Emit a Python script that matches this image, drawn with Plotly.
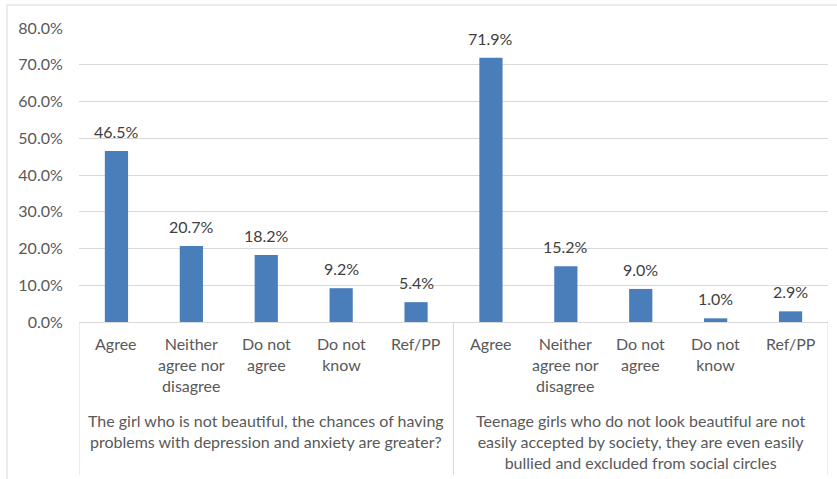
import plotly.graph_objects as go

# Survey responses, two statements, five answer options each
questions = [
    "The girl who is not beautiful, the chances of having<br>problems with depression and anxiety are greater?",
    "Teenage girls who do not look beautiful are not<br>easily accepted by society, they are even easily<br>bullied and excluded from social circles",
]
answers = ["Agree", "Neither<br>agree nor<br>disagree", "Do not<br>agree", "Do not<br>know", "Ref/PP"]
shares_q1 = [0.465, 0.207, 0.182, 0.092, 0.054]
shares_q2 = [0.719, 0.152, 0.090, 0.010, 0.029]

y_ticks = [0.0, 0.1, 0.2, 0.3, 0.4, 0.5, 0.6, 0.7, 0.8]

values = shares_q1 + shares_q2
labels = answers + answers
xpos = list(range(len(values)))

BAR = "#4a7ebb"
GRID = "#d9d9d9"
FONT = "Lato"

fig = go.Figure(
    go.Bar(
        x=xpos,
        y=values,
        marker=dict(color=BAR, line=dict(width=0)),
        width=0.31,
        hoverinfo="skip",
    )
)

annotations = []
# value labels above each bar
for x, v in zip(xpos, values):
    annotations.append(dict(
        x=x, y=v, xref="x", yref="y", text=f"{v*100:.1f}%",
        showarrow=False, yanchor="bottom", yshift=8,
        font=dict(family=FONT, size=16, color="#404040"),
    ))
# answer option labels under the axis
for x, lab in zip(xpos, labels):
    annotations.append(dict(
        x=x, y=0, xref="x", yref="paper", text=lab,
        showarrow=False, yanchor="top", yshift=-10, align="center",
        font=dict(family=FONT, size=16, color="#595959"),
    ))
# statement labels, one per group
for gi, q in enumerate(questions):
    annotations.append(dict(
        x=gi * 5 + 2, y=0, xref="x", yref="paper", text=q,
        showarrow=False, yanchor="top", yshift=-87, align="center",
        font=dict(family=FONT, size=16, color="#595959"),
    ))

plot_h = 294.0
plot_w = 749.0
shapes = []
# group divider lines below the axis
for xd in [-0.5, 4.5, 9.5]:
    shapes.append(dict(
        type="line", xref="x", yref="paper", x0=xd, x1=xd,
        y0=0, y1=-(475 - 322) / plot_h, line=dict(color=GRID, width=1),
    ))
# chart frame
shapes.append(dict(
    type="rect", xref="paper", yref="paper",
    x0=-(79 - 7) / plot_w, x1=1.1, y0=-(490 - 322) / plot_h, y1=(322 - 5) / plot_h,
    line=dict(color=GRID, width=1), layer="below",
))

fig.update_layout(
    width=837, height=479,
    margin=dict(l=79, r=9, t=28, b=157),
    paper_bgcolor="white", plot_bgcolor="white",
    showlegend=False,
    bargap=0.69,
    annotations=annotations,
    shapes=shapes,
    xaxis=dict(
        range=[-0.5, 9.5], showticklabels=False, showgrid=False,
        zeroline=False, showline=True, linecolor=GRID, linewidth=1,
        fixedrange=True,
    ),
    yaxis=dict(
        range=[0, 0.8], tickvals=y_ticks,
        ticktext=[f"{t*100:.1f}%" for t in y_ticks],
        tickfont=dict(family=FONT, size=16, color="#595959"),
        showgrid=True, gridcolor=GRID, gridwidth=1,
        zeroline=False, showline=False,
        ticks="outside", ticklen=12, tickcolor="rgba(0,0,0,0)",
        fixedrange=True,
    ),
)

fig.write_html("out.html")
